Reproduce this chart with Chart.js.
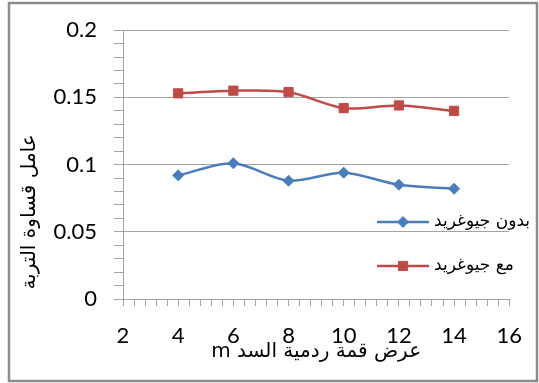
<!DOCTYPE html>
<html>
<head>
<meta charset="utf-8">
<script src="https://cdn.jsdelivr.net/npm/chart.js@4/dist/chart.umd.min.js"></script>
<style>
  html, body { margin: 0; padding: 0; background: #fff; }
  #wrap { width: 539px; height: 383px; }
</style>
</head>
<body>
<div id="wrap"><canvas id="c" width="539" height="383"></canvas></div>
<script>
// Crest width of the embankment (m)
const crestWidths = [4, 6, 8, 10, 12, 14];
// Soil stiffness factor, without and with geogrid
const withoutGeogrid = [0.092, 0.101, 0.088, 0.094, 0.085, 0.082];
const withGeogrid = [0.153, 0.155, 0.154, 0.142, 0.144, 0.140];
const seriesNames = ['بدون جيوغريد', 'مع جيوغريد'];
const xTitle = 'عرض قمة ردمية السد m';
const yTitle = 'عامل قساوة التربة';
// Labelled (major) ticks; minor ticks fall between them
const xMajorTicks = [2, 4, 6, 8, 10, 12, 14, 16];
const yMajorTicks = [0, 0.05, 0.1, 0.15, 0.2];

const BLUE = '#4a7ebb';
const RED = '#be4b48';
const GRID = '#a3a3a3';
const ARABIC_FONT = '"DejaVu Sans", sans-serif';

const isMajor = (v, list) => list.some(m => Math.abs(m - v) < 1e-6);

const toPoints = ys => crestWidths.map((x, i) => ({ x, y: ys[i] }));

const frame = {
  id: 'frame',
  beforeDraw(chart) {
    const c = chart.ctx;
    c.save();
    c.fillStyle = '#fff';
    c.fillRect(0, 0, chart.width, chart.height);
    c.restore();
  },
  afterDraw(chart) {
    const c = chart.ctx, a = chart.chartArea;
    c.save();
    // outer border
    c.strokeStyle = '#8c8c8c';
    c.lineWidth = 2.5;
    c.strokeRect(9, 3, 528, 378);

    // axis titles
    c.fillStyle = '#000';
    c.font = '20px ' + ARABIC_FONT;
    c.direction = 'rtl';
    c.textAlign = 'center';
    c.textBaseline = 'middle';
    c.fillText(xTitle, (a.left + a.right) / 2, 352);
    c.save();
    c.translate(30, 212);
    c.rotate(-Math.PI / 2);
    c.fillText(yTitle, 0, 0);
    c.restore();

    // legend inside the plot, on the right
    const rows = [222, 266];
    chart.data.datasets.forEach((ds, i) => {
      const y = rows[i];
      c.strokeStyle = ds.borderColor;
      c.lineWidth = ds.borderWidth;
      c.beginPath();
      c.moveTo(377, y);
      c.lineTo(429, y);
      c.stroke();
      const style = { pointStyle: ds.pointStyle, radius: ds.pointRadius, borderWidth: 1, rotation: 0 };
      c.fillStyle = ds.pointBackgroundColor;
      c.strokeStyle = ds.pointBorderColor;
      c.lineWidth = 1;
      Chart.helpers.drawPoint(c, style, 403, y);
      c.fillStyle = '#000';
      c.font = '17px ' + ARABIC_FONT;
      c.direction = 'ltr';
      c.textAlign = 'left';
      c.textBaseline = 'middle';
      c.fillText(ds.label, 434, y);
    });
    c.restore();
  }
};

new Chart(document.getElementById('c'), {
  type: 'line',
  data: {
    datasets: [
      {
        label: seriesNames[0],
        data: toPoints(withoutGeogrid),
        borderColor: BLUE,
        backgroundColor: BLUE,
        pointBackgroundColor: BLUE,
        pointBorderColor: BLUE,
        borderWidth: 2.5,
        pointStyle: 'rectRot',
        pointRadius: 5.5,
        pointBorderWidth: 1,
        tension: 0.3
      },
      {
        label: seriesNames[1],
        data: toPoints(withGeogrid),
        borderColor: RED,
        backgroundColor: RED,
        pointBackgroundColor: RED,
        pointBorderColor: RED,
        borderWidth: 2.5,
        pointStyle: 'rect',
        pointRadius: 6.5,
        pointBorderWidth: 1,
        tension: 0.3
      }
    ]
  },
  options: {
    responsive: false,
    devicePixelRatio: 1,
    animation: false,
    layout: { padding: { top: 25, right: 28, left: 0, bottom: 0 } },
    plugins: { legend: { display: false }, tooltip: { enabled: false } },
    scales: {
      x: {
        type: 'linear',
        min: 2,
        max: 16,
        afterFit(s) { s.height = 84; },
        border: { color: GRID, width: 1 },
        grid: {
          drawOnChartArea: false,
          tickLength: 7,
          tickColor: GRID
        },
        ticks: {
          stepSize: 0.4,
          autoSkip: false,
          maxRotation: 0,
          padding: 17,
          color: '#000',
          font: { family: 'Lato', size: 22 },
          callback: v => isMajor(v, xMajorTicks) ? String(Math.round(v)) : ''
        }
      },
      y: {
        min: 0,
        max: 0.2,
        afterFit(s) { s.width = 123; },
        border: { color: GRID, width: 1 },
        grid: {
          tickLength: 9,
          tickColor: GRID,
          color: ctx => (ctx.tick && isMajor(ctx.tick.value, yMajorTicks)) ? GRID : 'rgba(0,0,0,0)'
        },
        ticks: {
          stepSize: 0.01,
          autoSkip: false,
          padding: 17,
          color: '#000',
          font: { family: 'Lato', size: 22 },
          callback: v => isMajor(v, yMajorTicks) ? String(Math.round(v * 100) / 100) : ''
        }
      }
    }
  },
  plugins: [frame]
});
</script>
</body>
</html>
